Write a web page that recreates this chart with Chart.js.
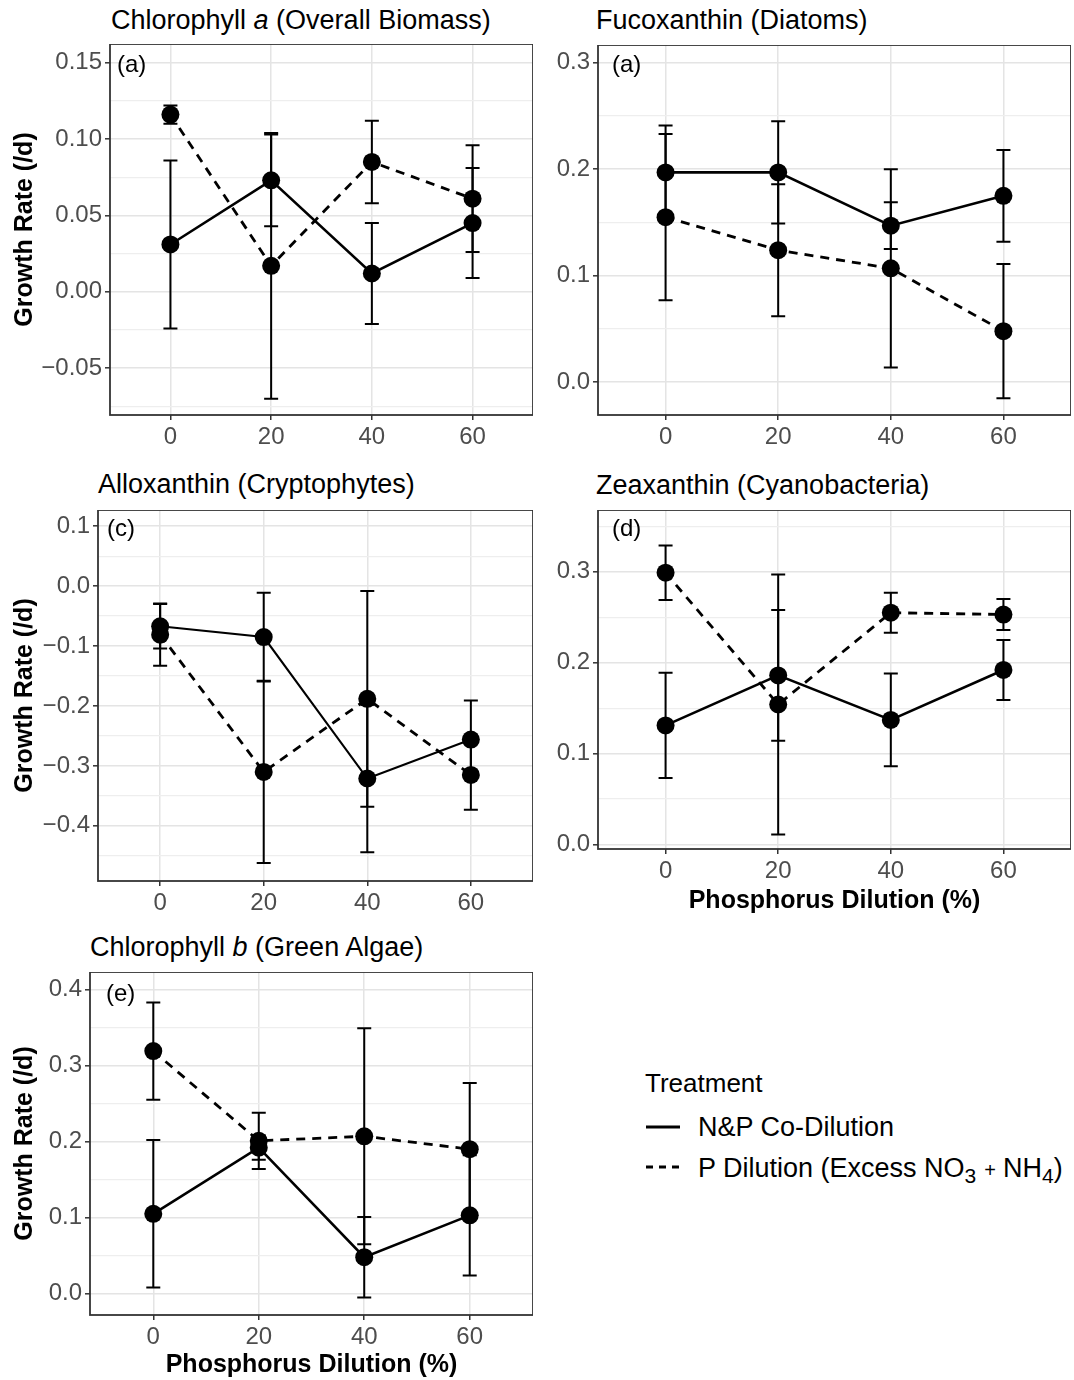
<!DOCTYPE html>
<html>
<head>
<meta charset="utf-8">
<title>Growth rate by phosphorus dilution</title>
<script src="https://cdn.jsdelivr.net/npm/chart.js@4.4.0/dist/chart.umd.min.js"></script>
<style>
body { margin: 0; background: #fff; }
#fig { position: relative; width: 1074px; height: 1380px; font-family: 'Liberation Sans', Arial, sans-serif; color: #000; }
#fig canvas { position: absolute; }
.ptitle { position: absolute; font-size: 27px; line-height: 1; white-space: nowrap; }
.lg { position: absolute; line-height: 1; white-space: nowrap; }
.lg sub { font-size: 21px; vertical-align: -6px; line-height: 0; }
.lg .op { font-size: 20px; margin: 0 7px 0 8px; }
.key { position: absolute; }
</style>
</head>
<body>
<div id="fig">
  <div class="ptitle" style="left:111px;top:7px">Chlorophyll <i>a</i> (Overall Biomass)</div>
  <div class="ptitle" style="left:596px;top:7px">Fucoxanthin (Diatoms)</div>
  <div class="ptitle" style="left:98px;top:471px">Alloxanthin (Cryptophytes)</div>
  <div class="ptitle" style="left:596px;top:472px">Zeaxanthin (Cyanobacteria)</div>
  <div class="ptitle" style="left:90px;top:934px">Chlorophyll <i>b</i> (Green Algae)</div>

  <canvas id="chlA" width="533" height="416" style="left:0;top:44px"></canvas>
  <canvas id="fuco" width="531" height="415" style="left:540px;top:45px"></canvas>
  <canvas id="allo" width="533" height="410" style="left:0;top:510px"></canvas>
  <canvas id="zea" width="531" height="410" style="left:540px;top:510px"></canvas>
  <canvas id="chlB" width="533" height="408" style="left:0;top:972px"></canvas>

  <div class="lg" style="left:645px;top:1070px;font-size:26px">Treatment</div>
  <svg class="key" style="left:646px;top:1123px" width="36" height="8"><line x1="0" y1="4" x2="34" y2="4" stroke="#000" stroke-width="3"/></svg>
  <div class="lg" style="left:698px;top:1114px;font-size:27px">N&amp;P Co-Dilution</div>
  <svg class="key" style="left:646px;top:1163px" width="36" height="8"><line x1="0" y1="4" x2="34" y2="4" stroke="#000" stroke-width="3" stroke-dasharray="7 6"/></svg>
  <div class="lg" style="left:698px;top:1155px;font-size:27px">P Dilution (Excess NO<sub>3</sub><span class="op">+</span>NH<sub>4</sub>)</div>
</div>

<script>
// x values shared by every panel
const dilution = [0, 20, 40, 60];
const xTicks = [0, 20, 40, 60];
const xTickLabels = ['0', '20', '40', '60'];

// Chlorophyll a (overall biomass)
const chlaNP = [0.031, 0.073, 0.012, 0.045];
const chlaNPErr = [0.055, 0.030, 0.033, 0.036];
const chlaP = [0.116, 0.017, 0.085, 0.061];
const chlaPErr = [0.006, 0.087, 0.027, 0.035];
const chlaYTicks = [-0.05, 0, 0.05, 0.10, 0.15];
const chlaYLabels = ['\u22120.05', '0.00', '0.05', '0.10', '0.15'];

// Fucoxanthin (diatoms)
const fucoNP = [0.197, 0.197, 0.147, 0.175];
const fucoNPErr = [0.044, 0.048, 0.022, 0.043];
const fucoP = [0.155, 0.124, 0.107, 0.048];
const fucoPErr = [0.078, 0.062, 0.093, 0.063];
const fucoYTicks = [0, 0.1, 0.2, 0.3];
const fucoYLabels = ['0.0', '0.1', '0.2', '0.3'];

// Alloxanthin (cryptophytes)
const alloNP = [-0.067, -0.085, -0.321, -0.256];
const alloNPErr = [0.037, 0.074, 0.123, 0.065];
const alloP = [-0.081, -0.310, -0.188, -0.315];
const alloPErr = [0.052, 0.152, 0.180, 0.058];
const alloYTicks = [-0.4, -0.3, -0.2, -0.1, 0, 0.1];
const alloYLabels = ['\u22120.4', '\u22120.3', '\u22120.2', '\u22120.1', '0.0', '0.1'];

// Zeaxanthin (cyanobacteria)
const zeaNP = [0.131, 0.186, 0.137, 0.192];
const zeaNPErr = [0.058, 0.072, 0.051, 0.033];
const zeaP = [0.299, 0.154, 0.255, 0.253];
const zeaPErr = [0.030, 0.143, 0.022, 0.017];
const zeaYTicks = [0, 0.1, 0.2, 0.3];
const zeaYLabels = ['0.0', '0.1', '0.2', '0.3'];

// Chlorophyll b (green algae)
const chlbNP = [0.105, 0.192, 0.048, 0.103];
const chlbNPErr = [0.097, 0.016, 0.053, 0.079];
const chlbP = [0.319, 0.201, 0.207, 0.190];
const chlbPErr = [0.064, 0.037, 0.142, 0.087];
const chlbYTicks = [0, 0.1, 0.2, 0.3, 0.4];
const chlbYLabels = ['0.0', '0.1', '0.2', '0.3', '0.4'];

const FONT = "'Liberation Sans', Arial, sans-serif";

// error bars go under the lines and points
const errorBarPlugin = {
  id: 'errorBars',
  beforeDatasetsDraw(chart) {
    const ctx = chart.ctx;
    const xs = chart.scales.x, ys = chart.scales.y;
    ctx.save();
    ctx.strokeStyle = '#000';
    ctx.lineWidth = 2;
    chart.data.datasets.forEach(ds => {
      ds.data.forEach((pt, i) => {
        const e = ds.errorBars[i];
        const px = xs.getPixelForValue(pt.x);
        const top = ys.getPixelForValue(pt.y + e);
        const bot = ys.getPixelForValue(pt.y - e);
        ctx.beginPath();
        ctx.moveTo(px, top); ctx.lineTo(px, bot);
        ctx.moveTo(px - 7, top); ctx.lineTo(px + 7, top);
        ctx.moveTo(px - 7, bot); ctx.lineTo(px + 7, bot);
        ctx.stroke();
      });
    });
    ctx.restore();
  }
};

// panel border and the (a)..(e) tag
const framePlugin = {
  id: 'panelFrame',
  afterDatasetsDraw(chart, args, opts) {
    const ctx = chart.ctx, a = chart.chartArea;
    ctx.save();
    ctx.strokeStyle = '#333';
    ctx.lineWidth = 1.8;
    ctx.strokeRect(a.left, a.top, a.right - a.left, a.bottom - a.top);
    ctx.fillStyle = '#000';
    ctx.font = '24px ' + FONT;
    ctx.textBaseline = 'middle';
    ctx.fillText(opts.text, a.left + opts.dx, a.top + opts.dy);
    ctx.restore();
  }
};

function pts(vals) {
  return dilution.map((x, i) => ({ x: x, y: vals[i] }));
}

// major ticks from the list, minor ticks half way between (gridline only)
function withMinor(values, min, max) {
  const step = values[1] - values[0];
  const out = values.map(v => ({ value: v }));
  for (let i = -1; i < values.length; i++) {
    const m = values[0] + (i + 0.5) * step;
    if (m >= min && m <= max) out.push({ value: m, minor: true });
  }
  return out.sort((a, b) => a.value - b.value);
}

const isMinor = c => c.tick && c.tick.minor;

function makePanel(p) {
  new Chart(document.getElementById(p.id), {
    type: 'line',
    data: {
      datasets: [
        {
          label: 'N&P Co-Dilution',
          data: pts(p.np),
          errorBars: p.npErr,
          borderColor: '#000',
          backgroundColor: '#000',
          borderWidth: p.solidWidth || 2.6,
          pointRadius: 9,
          pointBorderWidth: 0,
          pointBackgroundColor: '#000',
          tension: 0
        },
        {
          label: 'P Dilution (Excess NO3 + NH4)',
          data: pts(p.pd),
          errorBars: p.pdErr,
          borderColor: '#000',
          backgroundColor: '#000',
          borderWidth: 2.8,
          borderDash: [9, 7],
          pointRadius: 9,
          pointBorderWidth: 0,
          pointBackgroundColor: '#000',
          tension: 0
        }
      ]
    },
    options: {
      responsive: false,
      animation: false,
      layout: { padding: 0, autoPadding: false },
      plugins: {
        legend: { display: false },
        tooltip: { enabled: false },
        panelFrame: { text: p.tag, dx: p.tagDx, dy: p.tagDy }
      },
      scales: {
        x: {
          type: 'linear',
          min: -12,
          max: 72,
          bounds: 'data',
          afterBuildTicks: s => { s.ticks = xTicks.map(v => ({ value: v })); },
          afterFit: s => { s.height = p.xh; s.paddingLeft = 0; s.paddingRight = 0; },
          ticks: {
            callback: (v, i) => xTickLabels[i],
            color: '#4D4D4D',
            font: { family: FONT, size: 24, lineHeight: 1 },
            padding: 5,
            maxRotation: 0,
            autoSkip: false
          },
          grid: { color: '#E4E4E4', lineWidth: 1.5, tickLength: 5, tickColor: '#333', tickWidth: 1.5 },
          border: { display: false },
          title: {
            display: p.xTitle,
            text: 'Phosphorus Dilution (%)',
            color: '#000',
            font: { family: FONT, size: 25, weight: 'bold', lineHeight: 1.2 },
            padding: { top: 0, bottom: p.xTitlePad || 0 }
          }
        },
        y: {
          type: 'linear',
          min: p.yMin,
          max: p.yMax,
          bounds: 'data',
          afterBuildTicks: s => { s.ticks = withMinor(p.yTicks, p.yMin, p.yMax); },
          afterFit: s => { s.width = p.yw; s.paddingTop = 0; s.paddingBottom = 0; },
          ticks: {
            callback: (v, i, ts) => ts[i].minor ? '' : p.yLabels[p.yTicks.indexOf(v)],
            color: '#4D4D4D',
            font: { family: FONT, size: 24, lineHeight: 1 },
            padding: 3,
            autoSkip: false
          },
          grid: {
            color: c => isMinor(c) ? '#EEEEEE' : '#E4E4E4',
            lineWidth: c => isMinor(c) ? 1.2 : 1.6,
            tickLength: 5,
            tickColor: c => isMinor(c) ? 'rgba(0,0,0,0)' : '#333',
            tickWidth: 1.5
          },
          border: { display: false },
          title: {
            display: p.yTitle,
            text: 'Growth Rate (/d)',
            color: '#000',
            font: { family: FONT, size: 25, weight: 'bold', lineHeight: 1.2 },
            padding: { top: 10, bottom: 0 }
          }
        }
      }
    },
    plugins: [errorBarPlugin, framePlugin]
  });
}

makePanel({
  id: 'chlA', np: chlaNP, npErr: chlaNPErr, pd: chlaP, pdErr: chlaPErr,
  yTicks: chlaYTicks, yLabels: chlaYLabels, yMin: -0.0806, yMax: 0.1622,
  yw: 110, xh: 45, yTitle: true, xTitle: false, tag: '(a)', tagDx: 7, tagDy: 21
});
makePanel({
  id: 'fuco', np: fucoNP, npErr: fucoNPErr, pd: fucoP, pdErr: fucoPErr,
  yTicks: fucoYTicks, yLabels: fucoYLabels, yMin: -0.0307, yMax: 0.3166,
  yw: 58, xh: 45, yTitle: false, xTitle: false, tag: '(a)', tagDx: 14, tagDy: 20
});
makePanel({
  id: 'allo', np: alloNP, npErr: alloNPErr, pd: alloP, pdErr: alloPErr,
  yTicks: alloYTicks, yLabels: alloYLabels, yMin: -0.492, yMax: 0.127,
  yw: 98, xh: 39, yTitle: true, xTitle: false, tag: '(c)', tagDx: 9, tagDy: 19, solidWidth: 2.1
});
makePanel({
  id: 'zea', np: zeaNP, npErr: zeaNPErr, pd: zeaP, pdErr: zeaPErr,
  yTicks: zeaYTicks, yLabels: zeaYLabels, yMin: -0.005, yMax: 0.368,
  yw: 58, xh: 71, yTitle: false, xTitle: true, xTitlePad: 4, tag: '(d)', tagDx: 14, tagDy: 19
});
makePanel({
  id: 'chlB', np: chlbNP, npErr: chlbNPErr, pd: chlbP, pdErr: chlbPErr,
  yTicks: chlbYTicks, yLabels: chlbYLabels, yMin: -0.028, yMax: 0.423,
  yw: 90, xh: 65, yTitle: true, xTitle: true, xTitlePad: 0, tag: '(e)', tagDx: 16, tagDy: 22
});
</script>
</body>
</html>
